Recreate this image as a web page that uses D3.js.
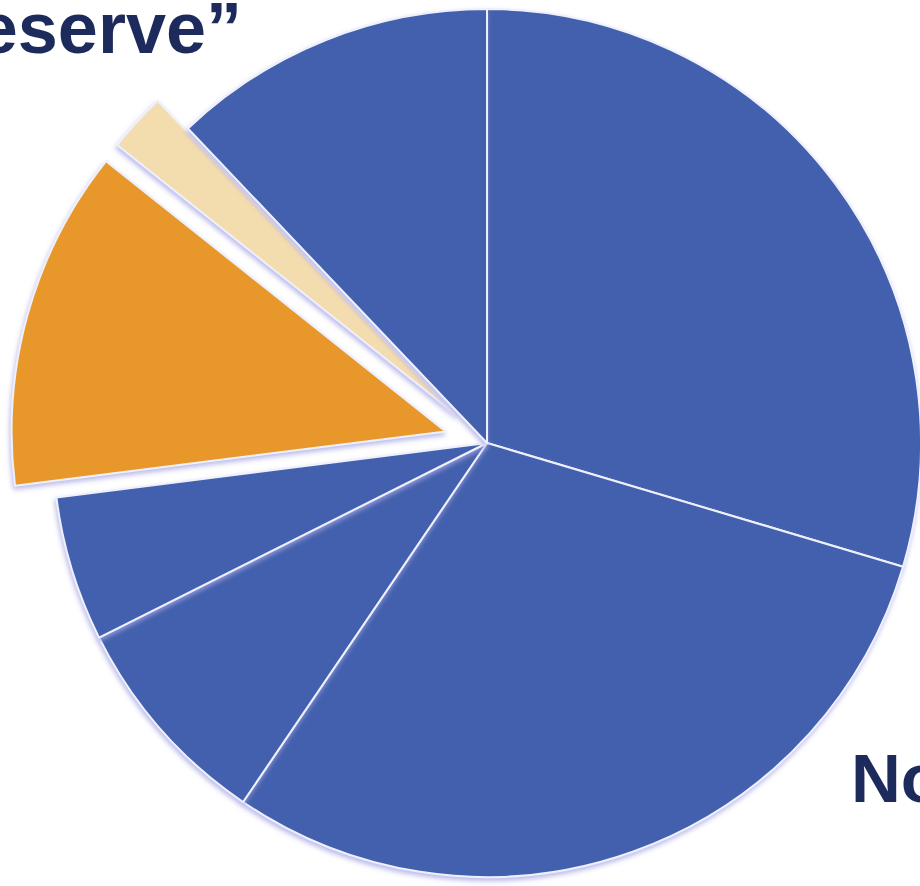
<!DOCTYPE html>
<html>
<head>
<meta charset="utf-8">
<script src="https://cdn.jsdelivr.net/npm/d3@7"></script>
<style>
  body { margin: 0; background: #fff; overflow: hidden; }
</style>
</head>
<body>
<div id="chart"></div>
<script>
// slices clockwise from 12 o'clock (percent of total)
var slices = ["A", "B", "C", "D", "Reserve", "Reserve2", "G"];
var values = [29.6, 29.9, 8.1, 5.4, 12.7, 2.2, 12.1];
var colors = ["#4260ad", "#4260ad", "#4260ad", "#4260ad", "#e8982a", "#f3dcae", "#4260ad"];
var exploded = [0, 0, 0, 0, 43, 41, 0];

var width = 920, height = 886,
    cx = 487, cy = 443, radius = 434;

var svg = d3.select("#chart")
  .append("svg")
    .attr("width", width)
    .attr("height", height);

// lavender shadow round the slices
var defs = svg.append("defs");
var f = defs.append("filter").attr("id", "shadow")
    .attr("x", "-10%").attr("y", "-10%").attr("width", "120%").attr("height", "120%");
f.append("feDropShadow")
    .attr("dx", -1).attr("dy", 3)
    .attr("stdDeviation", 2.5)
    .attr("flood-color", "#a9a8e6")
    .attr("flood-opacity", 0.8);

var pie = d3.pie().sort(null).value(function(d) { return d; });
var arc = d3.arc().innerRadius(0).outerRadius(radius);

var data = pie(values);

var g = svg.append("g")
    .attr("transform", "translate(" + cx + "," + cy + ")");

g.selectAll("path")
  .data(data)
  .enter()
  .append("path")
    .attr("d", arc)
    .attr("transform", function(d, i) {
      var a = (d.startAngle + d.endAngle) / 2;
      var off = exploded[i];
      return "translate(" + (Math.sin(a) * off) + "," + (-Math.cos(a) * off) + ")";
    })
    .attr("fill", function(d, i) { return colors[i]; })
    .attr("stroke", "#eef0fb")
    .attr("stroke-width", 2)
    .attr("stroke-linejoin", "round")
    .attr("filter", "url(#shadow)");

// titles (cut by the frame, as in the slide)
svg.append("text")
    .attr("x", 242)
    .attr("y", 53)
    .attr("text-anchor", "end")
    .style("font-family", "'Liberation Sans', Arial, sans-serif")
    .style("font-weight", "bold")
    .style("font-size", "72px")
    .style("fill", "#1c2a5c")
    .text("\u201cReserve\u201d");

svg.append("text")
    .attr("x", 851)
    .attr("y", 802)
    .style("font-family", "'Liberation Sans', Arial, sans-serif")
    .style("font-weight", "bold")
    .style("font-size", "69px")
    .style("fill", "#1c2a5c")
    .text("Non");
</script>
</body>
</html>
